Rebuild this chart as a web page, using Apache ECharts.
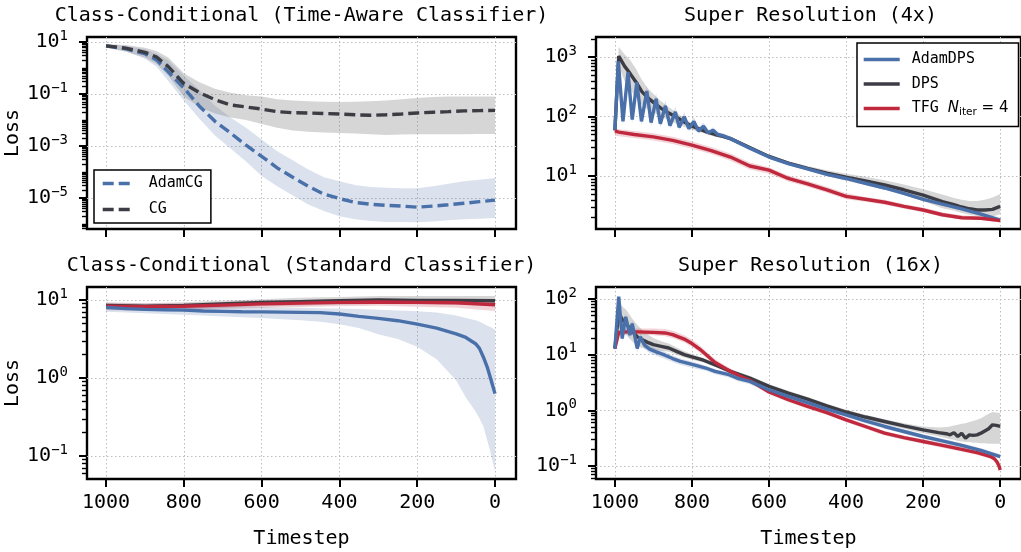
<!DOCTYPE html>
<html>
<head>
<meta charset="utf-8">
<script src="https://cdn.jsdelivr.net/npm/echarts@6/dist/echarts.min.js"></script>
<style>
  html, body { margin: 0; padding: 0; background: #fff; }
  #chart { width: 1021px; height: 552px; }
</style>
</head>
<body>
<div id="chart"></div>
<script>
// all loss values below are log10(loss)

// Class-Conditional (Time-Aware Classifier)
const tlT = [1000, 950, 900, 870, 840, 800, 760, 720, 680, 640, 600, 560, 520, 480, 440, 400, 360, 320, 280, 240, 200, 160, 120, 80, 40, 0];
const tlAdamCG = [0.85, 0.74, 0.55, 0.31, -0.15, -0.77, -1.47, -2.05, -2.5, -2.97, -3.4, -3.84, -4.2, -4.55, -4.85, -5.02, -5.17, -5.24, -5.28, -5.31, -5.35, -5.31, -5.26, -5.2, -5.14, -5.08];
const tlAdamCGHi = [0.9, 0.85, 0.72, 0.55, 0.3, -0.3, -0.85, -1.45, -1.9, -2.3, -2.75, -3.2, -3.55, -3.9, -4.2, -4.35, -4.5, -4.58, -4.6, -4.62, -4.62, -4.55, -4.45, -4.35, -4.3, -4.23];
const tlAdamCGLo = [0.8, 0.65, 0.35, 0.05, -0.5, -1.25, -1.95, -2.6, -3.1, -3.6, -4.15, -4.55, -4.9, -5.25, -5.5, -5.7, -5.82, -5.88, -5.92, -5.92, -5.93, -5.9, -5.85, -5.82, -5.8, -5.77];
const tlCG = [0.85, 0.76, 0.6, 0.42, 0.05, -0.6, -0.95, -1.22, -1.42, -1.5, -1.58, -1.68, -1.72, -1.73, -1.75, -1.77, -1.8, -1.82, -1.8, -1.77, -1.73, -1.7, -1.68, -1.65, -1.64, -1.63];
const tlCGHi = [0.92, 0.88, 0.78, 0.65, 0.4, -0.2, -0.55, -0.8, -0.95, -1.05, -1.1, -1.2, -1.25, -1.28, -1.3, -1.31, -1.3, -1.28, -1.25, -1.2, -1.15, -1.12, -1.1, -1.1, -1.1, -1.1];
const tlCGLo = [0.78, 0.62, 0.4, 0.15, -0.3, -1.1, -1.5, -1.75, -1.9, -2.0, -2.15, -2.3, -2.4, -2.45, -2.48, -2.5, -2.52, -2.55, -2.58, -2.56, -2.55, -2.55, -2.55, -2.55, -2.54, -2.54];

// Super Resolution (4x)
const trAdamT = [1000, 991, 979, 966, 955, 943, 931, 917, 906, 893, 882, 869, 857, 843, 833, 820, 808, 795, 783, 770, 758, 745, 733, 720, 700, 650, 600, 550, 500, 450, 400, 350, 300, 250, 200, 150, 100, 50, 0];
const trAdam = [1.77, 2.93, 1.92, 2.75, 1.95, 2.58, 1.92, 2.43, 1.9, 2.3, 1.88, 2.18, 1.85, 2.08, 1.82, 2.0, 1.8, 1.92, 1.76, 1.84, 1.73, 1.77, 1.7, 1.68, 1.63, 1.47, 1.32, 1.21, 1.12, 1.03, 0.96, 0.88, 0.8, 0.71, 0.61, 0.53, 0.45, 0.36, 0.26];
const trAdamHi = [1.8, 3.0, 1.98, 2.84, 2.01, 2.68, 1.98, 2.53, 1.96, 2.4, 1.94, 2.28, 1.91, 2.17, 1.87, 2.08, 1.85, 1.99, 1.81, 1.9, 1.77, 1.82, 1.74, 1.72, 1.67, 1.5, 1.35, 1.24, 1.15, 1.06, 0.99, 0.91, 0.83, 0.74, 0.64, 0.56, 0.48, 0.39, 0.3];
const trAdamLo = [1.73, 2.84, 1.86, 2.66, 1.89, 2.49, 1.86, 2.34, 1.84, 2.21, 1.82, 2.09, 1.8, 1.99, 1.77, 1.93, 1.75, 1.86, 1.71, 1.79, 1.69, 1.72, 1.66, 1.64, 1.59, 1.44, 1.29, 1.18, 1.09, 1.0, 0.93, 0.85, 0.77, 0.68, 0.58, 0.5, 0.42, 0.33, 0.23];
const trDpsT = [1000, 990, 975, 960, 945, 930, 915, 900, 880, 860, 840, 820, 800, 780, 760, 740, 720, 700, 650, 600, 550, 500, 450, 400, 350, 300, 250, 200, 150, 120, 100, 80, 60, 40, 20, 0];
const trDps = [1.77, 3.02, 2.85, 2.72, 2.58, 2.42, 2.32, 2.24, 2.14, 2.06, 1.99, 1.91, 1.84, 1.79, 1.74, 1.7, 1.67, 1.63, 1.48, 1.33, 1.22, 1.13, 1.05, 0.98, 0.92, 0.85, 0.77, 0.68, 0.57, 0.52, 0.48, 0.45, 0.43, 0.43, 0.44, 0.49];
const trDpsHi = [1.8, 3.17, 3.05, 2.95, 2.8, 2.62, 2.48, 2.38, 2.26, 2.16, 2.07, 1.97, 1.89, 1.83, 1.77, 1.73, 1.69, 1.65, 1.5, 1.36, 1.25, 1.17, 1.1, 1.04, 0.99, 0.93, 0.86, 0.78, 0.69, 0.63, 0.6, 0.58, 0.58, 0.6, 0.64, 0.7];
const trDpsLo = [1.74, 2.85, 2.6, 2.45, 2.33, 2.2, 2.12, 2.07, 2.0, 1.94, 1.88, 1.83, 1.78, 1.74, 1.7, 1.66, 1.64, 1.6, 1.45, 1.3, 1.19, 1.09, 1.0, 0.92, 0.85, 0.77, 0.68, 0.58, 0.46, 0.42, 0.38, 0.35, 0.33, 0.32, 0.32, 0.36];
const trTfgT = [1000, 990, 950, 900, 850, 800, 750, 700, 650, 600, 550, 500, 450, 400, 350, 300, 250, 200, 150, 100, 50, 0];
const trTfg = [1.76, 1.74, 1.7, 1.66, 1.6, 1.52, 1.43, 1.32, 1.17, 1.1, 0.96, 0.87, 0.77, 0.66, 0.61, 0.56, 0.49, 0.43, 0.35, 0.3, 0.29, 0.25];
const trTfgHi = [1.8, 1.79, 1.76, 1.72, 1.66, 1.58, 1.49, 1.38, 1.23, 1.15, 1.01, 0.92, 0.82, 0.71, 0.65, 0.6, 0.53, 0.47, 0.39, 0.34, 0.32, 0.28];
const trTfgLo = [1.68, 1.67, 1.64, 1.6, 1.54, 1.46, 1.37, 1.26, 1.11, 1.04, 0.91, 0.82, 0.72, 0.61, 0.57, 0.52, 0.45, 0.39, 0.31, 0.27, 0.26, 0.22];

// Class-Conditional (Standard Classifier)
const blAdamT = [1000, 950, 900, 850, 800, 750, 700, 650, 600, 550, 500, 450, 400, 350, 300, 250, 200, 150, 100, 75, 50, 40, 30, 20, 10, 0];
const blAdam = [0.906, 0.89, 0.88, 0.875, 0.87, 0.86, 0.855, 0.85, 0.848, 0.845, 0.842, 0.838, 0.82, 0.79, 0.765, 0.735, 0.69, 0.64, 0.565, 0.52, 0.44, 0.38, 0.27, 0.14, -0.03, -0.2];
const blAdamHi = [0.95, 0.94, 0.93, 0.93, 0.93, 0.925, 0.92, 0.915, 0.91, 0.905, 0.9, 0.895, 0.89, 0.885, 0.875, 0.865, 0.855, 0.84, 0.8, 0.77, 0.74, 0.72, 0.7, 0.67, 0.65, 0.62];
const blAdamLo = [0.85, 0.84, 0.83, 0.82, 0.81, 0.8, 0.79, 0.78, 0.77, 0.755, 0.74, 0.72, 0.69, 0.64, 0.56, 0.5, 0.4, 0.24, -0.03, -0.25, -0.43, -0.52, -0.62, -0.8, -0.98, -1.2];
const blT = [1000, 900, 800, 700, 600, 500, 400, 300, 200, 100, 0];
const blCG = [0.93, 0.92, 0.93, 0.95, 0.97, 0.98, 0.99, 1.0, 0.995, 0.995, 0.99];
const blCGHi = [0.97, 0.96, 0.97, 0.99, 1.01, 1.03, 1.04, 1.05, 1.05, 1.05, 1.05];
const blCGLo = [0.88, 0.87, 0.88, 0.9, 0.92, 0.93, 0.94, 0.95, 0.945, 0.94, 0.93];
const blTfg = [0.92, 0.915, 0.92, 0.935, 0.95, 0.96, 0.97, 0.975, 0.97, 0.965, 0.94];
const blTfgHi = [0.96, 0.955, 0.96, 0.975, 0.99, 1.0, 1.01, 1.015, 1.01, 1.005, 0.98];
const blTfgLo = [0.87, 0.865, 0.87, 0.885, 0.9, 0.91, 0.92, 0.925, 0.915, 0.9, 0.86];

// Super Resolution (16x)
const brAdamT = [1000, 990, 981, 972, 961, 955, 942, 934, 923, 910, 893, 870, 850, 830, 807, 785, 764, 740, 704, 679, 650, 601, 550, 500, 450, 400, 350, 300, 250, 200, 150, 100, 50, 0];
const brAdam = [1.11, 2.04, 1.29, 1.68, 1.35, 1.56, 1.11, 1.32, 1.17, 1.1, 1.05, 0.99, 0.93, 0.88, 0.84, 0.8, 0.76, 0.7, 0.64, 0.57, 0.52, 0.37, 0.25, 0.14, 0.02, -0.08, -0.19, -0.29, -0.38, -0.47, -0.55, -0.63, -0.72, -0.83];
const brAdamHi = [1.16, 2.1, 1.36, 1.74, 1.42, 1.62, 1.19, 1.39, 1.24, 1.17, 1.11, 1.05, 0.99, 0.93, 0.89, 0.85, 0.8, 0.74, 0.68, 0.61, 0.56, 0.41, 0.29, 0.18, 0.06, -0.04, -0.15, -0.25, -0.34, -0.43, -0.51, -0.59, -0.68, -0.79];
const brAdamLo = [1.06, 1.97, 1.22, 1.61, 1.28, 1.49, 1.04, 1.25, 1.1, 1.03, 0.98, 0.92, 0.87, 0.82, 0.78, 0.74, 0.71, 0.65, 0.59, 0.52, 0.47, 0.32, 0.2, 0.09, -0.02, -0.12, -0.23, -0.33, -0.42, -0.51, -0.59, -0.67, -0.76, -0.87];
const brDpsT = [1000, 990, 980, 970, 960, 950, 940, 930, 915, 900, 880, 860, 840, 820, 800, 770, 730, 700, 650, 600, 550, 500, 450, 400, 350, 300, 250, 200, 160, 140, 130, 120, 110, 100, 90, 80, 70, 60, 50, 40, 30, 20, 10, 0];
const brDps = [1.11, 1.75, 1.62, 1.55, 1.46, 1.38, 1.31, 1.27, 1.22, 1.18, 1.15, 1.12, 1.06, 1.0, 0.96, 0.9, 0.79, 0.7, 0.58, 0.43, 0.31, 0.2, 0.08, -0.03, -0.12, -0.2, -0.28, -0.35, -0.4, -0.42, -0.44, -0.4, -0.47, -0.41, -0.5, -0.44, -0.45, -0.44, -0.41, -0.37, -0.33, -0.26, -0.27, -0.29];
const brDpsHi = [1.16, 1.95, 1.86, 1.8, 1.7, 1.6, 1.52, 1.45, 1.36, 1.3, 1.24, 1.2, 1.13, 1.06, 1.01, 0.94, 0.83, 0.74, 0.62, 0.47, 0.35, 0.24, 0.12, 0.01, -0.08, -0.16, -0.23, -0.29, -0.31, -0.3, -0.29, -0.27, -0.26, -0.24, -0.23, -0.21, -0.19, -0.17, -0.14, -0.1, -0.06, -0.03, -0.04, -0.05];
const brDpsLo = [1.06, 1.5, 1.4, 1.35, 1.27, 1.2, 1.15, 1.12, 1.1, 1.08, 1.07, 1.05, 1.0, 0.95, 0.91, 0.86, 0.75, 0.66, 0.54, 0.39, 0.27, 0.16, 0.04, -0.07, -0.16, -0.25, -0.33, -0.41, -0.47, -0.5, -0.52, -0.53, -0.55, -0.56, -0.57, -0.57, -0.58, -0.58, -0.59, -0.59, -0.6, -0.6, -0.6, -0.6];
const brTfgT = [1000, 990, 970, 940, 900, 870, 850, 820, 800, 780, 760, 740, 720, 700, 680, 650, 600, 550, 500, 450, 400, 350, 300, 250, 200, 150, 100, 60, 40, 25, 15, 8, 3, 0];
const brTfg = [1.11, 1.4, 1.41, 1.41, 1.4, 1.39, 1.36, 1.28, 1.2, 1.1, 0.98, 0.86, 0.78, 0.7, 0.63, 0.54, 0.33, 0.19, 0.07, -0.04, -0.17, -0.29, -0.41, -0.49, -0.56, -0.63, -0.7, -0.76, -0.8, -0.83, -0.87, -0.93, -1.0, -1.07];
const brTfgHi = [1.15, 1.45, 1.47, 1.47, 1.47, 1.46, 1.43, 1.35, 1.27, 1.17, 1.04, 0.92, 0.83, 0.75, 0.68, 0.58, 0.37, 0.23, 0.11, 0.0, -0.13, -0.25, -0.37, -0.45, -0.52, -0.59, -0.66, -0.72, -0.76, -0.79, -0.83, -0.89, -0.96, -1.03];
const brTfgLo = [1.07, 1.35, 1.36, 1.36, 1.35, 1.33, 1.3, 1.22, 1.14, 1.04, 0.93, 0.81, 0.73, 0.65, 0.58, 0.5, 0.29, 0.15, 0.03, -0.08, -0.21, -0.33, -0.45, -0.53, -0.6, -0.67, -0.74, -0.8, -0.84, -0.87, -0.91, -0.97, -1.04, -1.11];

const titles = ['Class-Conditional (Time-Aware Classifier)', 'Super Resolution (4x)', 'Class-Conditional (Standard Classifier)', 'Super Resolution (16x)'];
const xTicks = [0, 200, 400, 600, 800, 1000];
const yRanges = [[-6.19, 1.19], [0.11, 3.34], [-1.295, 1.167], [-1.233, 2.215]];
const yMajors = [[-5, -3, -1, 1], [1, 2, 3], [-1, 0, 1], [-1, 0, 1, 2]];
const TFG = 'TFG N_iter = 4';

const MONO = 'DejaVu Sans Mono';
const SANS = 'DejaVu Sans';
const BLUE = '#4a70aa', GRAY = '#3c3c44', RED = '#c0283e';

const grids = [
  { left: 87, top: 37, width: 429, height: 192 },
  { left: 596, top: 37, width: 429, height: 192 },
  { left: 87, top: 287, width: 429, height: 192 },
  { left: 596, top: 287, width: 429, height: 192 }
].map(g => Object.assign(g, { show: true, borderColor: '#000', borderWidth: 2.4, backgroundColor: '#fff' }));

function minorTicks(range, majors) {
  const out = [];
  for (let n = Math.floor(range[0]); n <= Math.ceil(range[1]); n++) {
    for (let k = 1; k <= 9; k++) {
      if (k === 1 && majors.indexOf(n) >= 0) continue;
      const v = n + Math.log10(k);
      if (v >= range[0] && v <= range[1]) out.push(v);
    }
  }
  return out;
}

function supLabel(v) {
  const e = Math.round(v);
  return '{b|10}{s|' + (e < 0 ? '\u2212' + (-e) : e) + '}';
}

const gridLine = { show: true, lineStyle: { color: '#bdbdbd', width: 1, type: [1.5, 2.5] } };

const xAxes = grids.map((g, i) => ({
  type: 'value', gridIndex: i, min: -54, max: 1049, inverse: true, position: 'bottom',
  axisLine: { show: false, onZero: false },
  axisTick: { show: true, length: 8, customValues: xTicks, lineStyle: { color: '#000', width: 2 } },
  axisLabel: {
    show: i >= 2, customValues: xTicks, margin: 14, formatter: v => String(Math.round(v)),
    fontFamily: MONO, fontSize: 20, color: '#000'
  },
  splitLine: gridLine,
  name: i >= 2 ? 'Timestep' : '', nameLocation: 'middle', nameGap: 50,
  nameTextStyle: { fontFamily: MONO, fontSize: 20, color: '#000' }
}));

const yAxes = [];
grids.forEach((g, i) => {
  yAxes.push({
    type: 'value', gridIndex: i, min: yRanges[i][0], max: yRanges[i][1], position: 'left', offset: 0,
    axisLine: { show: false, onZero: false },
    axisTick: { show: true, length: 8, customValues: yMajors[i], lineStyle: { color: '#000', width: 2 } },
    axisLabel: {
      customValues: yMajors[i], margin: 19, formatter: supLabel,
      rich: {
        b: { fontFamily: MONO, fontSize: 20, lineHeight: 26, color: '#000' },
        s: { fontFamily: MONO, fontSize: 14, lineHeight: 14, verticalAlign: 'top', color: '#000' }
      }
    },
    splitLine: gridLine,
    name: i % 2 === 0 ? 'Loss' : '', nameLocation: 'middle', nameGap: 57,
    nameTextStyle: { fontFamily: MONO, fontSize: 20, color: '#000' }
  });
  yAxes.push({
    type: 'value', gridIndex: i, min: yRanges[i][0], max: yRanges[i][1], position: 'left', offset: 0,
    axisLine: { show: false, onZero: false }, axisLabel: { show: false }, splitLine: { show: false },
    axisTick: { show: true, length: 5, customValues: minorTicks(yRanges[i], yMajors[i]), lineStyle: { color: '#000', width: 1.4 } }
  });
});

function band(g, ts, lo, hi, fill) {
  return {
    type: 'custom', name: 'band', xAxisIndex: g, yAxisIndex: 2 * g, silent: true, z: 1, clip: true,
    data: ts.map((t, i) => [t, lo[i], hi[i]]),
    encode: { x: 0, y: [1, 2] },
    renderItem: function (params, api) {
      if (params.dataIndex !== 0) return null;
      const pts = [];
      for (let i = 0; i < ts.length; i++) pts.push(api.coord([ts[i], hi[i]]));
      for (let i = ts.length - 1; i >= 0; i--) pts.push(api.coord([ts[i], lo[i]]));
      return { type: 'polygon', shape: { points: pts }, style: { fill: fill } };
    }
  };
}

function line(name, g, ts, vs, color, z, dashed) {
  return {
    type: 'line', name: name, xAxisIndex: g, yAxisIndex: 2 * g, z: z,
    data: ts.map((t, i) => [t, vs[i]]),
    symbol: 'none', showSymbol: false, clip: true,
    itemStyle: { color: color },
    lineStyle: { color: color, width: 3.4, type: dashed ? [11, 5] : 'solid' }
  };
}

const BLUE_BAND = 'rgba(74,112,170,0.2)';
const GRAY_BAND = 'rgba(120,120,120,0.3)';
const RED_BAND = 'rgba(192,40,62,0.2)';

const series = [
  band(0, tlT, tlAdamCGLo, tlAdamCGHi, BLUE_BAND),
  band(0, tlT, tlCGLo, tlCGHi, GRAY_BAND),
  line('AdamCG', 0, tlT, tlAdamCG, BLUE, 3, true),
  line('CG', 0, tlT, tlCG, GRAY, 4, true),

  band(1, trAdamT, trAdamLo, trAdamHi, BLUE_BAND),
  band(1, trDpsT, trDpsLo, trDpsHi, GRAY_BAND),
  band(1, trTfgT, trTfgLo, trTfgHi, RED_BAND),
  line('AdamDPS', 1, trAdamT, trAdam, BLUE, 4),
  line('DPS', 1, trDpsT, trDps, GRAY, 3),
  line(TFG, 1, trTfgT, trTfg, RED, 5),

  band(2, blT, blCGLo, blCGHi, GRAY_BAND),
  band(2, blT, blTfgLo, blTfgHi, RED_BAND),
  band(2, blAdamT, blAdamLo, blAdamHi, BLUE_BAND),
  line('CG std', 2, blT, blCG, GRAY, 3),
  line('TFG std', 2, blT, blTfg, RED, 4),
  line('AdamCG std', 2, blAdamT, blAdam, BLUE, 5),

  band(3, brDpsT, brDpsLo, brDpsHi, GRAY_BAND),
  band(3, brTfgT, brTfgLo, brTfgHi, RED_BAND),
  band(3, brAdamT, brAdamLo, brAdamHi, BLUE_BAND),
  line('DPS 16x', 3, brDpsT, brDps, GRAY, 3),
  line('TFG 16x', 3, brTfgT, brTfg, RED, 4),
  line('AdamDPS 16x', 3, brAdamT, brAdam, BLUE, 5)
];

const legendBase = {
  orient: 'vertical', backgroundColor: '#fff', borderColor: '#000', borderWidth: 1.5, borderRadius: 0,
  itemHeight: 14, selectedMode: false,
  itemStyle: { opacity: 0, borderWidth: 0 },
  lineStyle: { width: 3.4 },
  textStyle: {
    fontFamily: MONO, fontSize: 15, color: '#000',
    rich: {
      t: { fontFamily: MONO, fontSize: 15, lineHeight: 18 },
      n: { fontFamily: SANS, fontSize: 15, fontStyle: 'italic', lineHeight: 18 },
      sub: { fontFamily: SANS, fontSize: 10.5, lineHeight: 13, verticalAlign: 'bottom' },
      m: { fontFamily: SANS, fontSize: 15, lineHeight: 18 }
    }
  },
  formatter: function (name) {
    return name === TFG ? '{t|TFG }{n|N}{sub|iter}{m| = 4}' : name;
  }
};

const option = {
  animation: false,
  backgroundColor: '#fff',
  title: titles.map((text, i) => ({
    text: text, left: grids[i].left + grids[i].width / 2, top: i < 2 ? 6 : 256, textAlign: 'center', padding: 0,
    textStyle: { fontFamily: MONO, fontSize: 20, fontWeight: 'normal', color: '#000' }
  })),
  grid: grids,
  xAxis: xAxes,
  yAxis: yAxes,
  legend: [
    Object.assign({}, legendBase, {
      data: ['AdamCG', 'CG'], left: 94, top: 170, itemWidth: 32, itemGap: 11,
      padding: [6, 8, 6, 7], textStyle: Object.assign({}, legendBase.textStyle, { padding: [0, 0, 0, 9] })
    }),
    Object.assign({}, legendBase, {
      data: ['AdamDPS', 'DPS', TFG], left: 857, top: 43, itemWidth: 36, itemGap: 9.5,
      padding: [9, 10, 9, 5], textStyle: Object.assign({}, legendBase.textStyle, { padding: [0, 0, 0, 7] })
    })
  ],
  series: series
};

const chart = echarts.init(document.getElementById('chart'), null, { renderer: 'canvas' });
chart.setOption(option);
</script>
</body>
</html>
